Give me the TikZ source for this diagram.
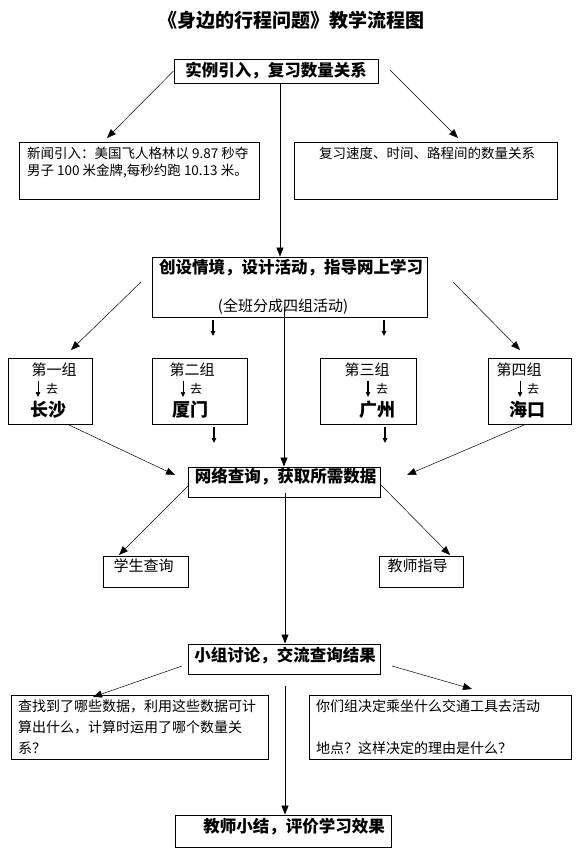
\documentclass[tikz,border=0pt]{standalone}
\usepackage{fontspec}
\setmainfont{Noto Sans CJK SC}
\usetikzlibrary{arrows.meta}
\begin{document}
\begin{tikzpicture}[x=1pt,y=-1pt,
 box/.style={draw,line width=0.9pt,inner sep=0pt,rectangle},
 hd/.style={font=\fontsize{16.5}{18}\selectfont\bfseries,inner sep=0pt},
 tx/.style={font=\fontsize{13.5}{16}\selectfont,inner sep=0pt},
 gx/.style={font=\fontsize{15}{17}\selectfont,inner sep=0pt},
 cityx/.style={font=\fontsize{18}{20}\selectfont\bfseries,inner sep=0pt},
 qux/.style={font=\fontsize{12}{14}\selectfont,inner sep=0pt},
 arr/.style={line width=0.8pt,-{Triangle[length=9pt,width=7pt]}},
 tarr/.style={line width=0.5pt,-{Triangle[length=9pt,width=7pt]}},
 tick/.style={line width=1.1pt,-{Triangle[length=5pt,width=4.5pt]}},
]
\useasboundingbox (0,0) rectangle (580,867);
% title
\node[font=\fontsize{19}{21}\selectfont\bfseries,inner sep=0pt] (title) at (291,20) {《身边的行程问题》教学流程图};
% box 1
\node[box,minimum width=204pt,minimum height=24pt] (b1) at (276,71) {};
\node[hd] (t1) at (276,71) {实例引入，复习数量关系};
% left news box
\node[box,minimum width=240pt,minimum height=57pt] (b2) at (139,170.5) {};
\node[tx,anchor=west] (t2a) at (27,153) {新闻引入：美国飞人格林以 9.87 秒夺};
\node[tx,anchor=west] (t2b) at (27,171) {男子 100 米金牌,每秒约跑 10.13 米。};
% right review box
\node[box,minimum width=263pt,minimum height=57pt] (b3) at (425.5,170.5) {};
\node[tx] (t3) at (427,153) {复习速度、时间、路程间的数量关系};
% arrows from box 1
\coordinate (c1) at (107,138);
\coordinate (c2s) at (390,70);
\coordinate (c2) at (458,138);
\coordinate (cx) at (280,0);
\draw[tarr] (b1.west) -- (c1);
\draw[tarr] (c2s) -- (c2);
% box 2
\node[box,minimum width=275pt,minimum height=60pt] (b4) at (289.5,287) {};
\node[hd] (t4) at (291,268) {创设情境，设计活动，指导网上学习};
\node[gx] (t4b) at (283,307) {(全班分成四组活动)};
\draw[arr] (b1.south -| cx) -- (b4.north -| cx);
% diagonals from box 2
\coordinate (d1s) at (141,282);
\coordinate (d1) at (71,350);
\coordinate (d2s) at (453,282);
\coordinate (d2) at (520,350);
\draw[tarr] (d1s) -- (d1);
\draw[tarr] (d2s) -- (d2);
% short arrows below box 2
\coordinate (s1a) at (213,320); \coordinate (s1b) at (213,336);
\coordinate (s2a) at (384,320); \coordinate (s2b) at (384,336);
\draw[tick] (s1a) -- (s1b);
\draw[tick] (s2a) -- (s2b);
% group boxes
\node[box,minimum width=84pt,minimum height=66pt] (gA) at (50,391) {};
\node[box,minimum width=95pt,minimum height=66pt] (gB) at (199.5,391) {};
\node[box,minimum width=96pt,minimum height=66pt] (gC) at (368,391) {};
\node[box,minimum width=83pt,minimum height=66pt] (gD) at (529.5,391) {};
\node[gx] (gAt) at (54,370) {第一组};
\node[gx] (gBt) at (192,370) {第二组};
\node[gx] (gCt) at (367,370) {第三组};
\node[gx] (gDt) at (519,370) {第四组};
\coordinate (aA1) at (38,381); \coordinate (aA2) at (38,397);
\coordinate (aB1) at (183,381); \coordinate (aB2) at (183,397);
\coordinate (aC1) at (368,381); \coordinate (aC2) at (368,397);
\coordinate (aD1) at (520,381); \coordinate (aD2) at (520,397);
\draw[tick,line width=0.7pt] (aA1) -- (aA2);
\draw[tick,line width=0.7pt] (aB1) -- (aB2);
\draw[tick,line width=1.3pt] (aC1) -- (aC2);
\draw[tick,line width=0.7pt] (aD1) -- (aD2);
\node[qux] (qA) at (52,389) {去};
\node[qux] (qB) at (196,389) {去};
\node[qux] (qC) at (382,389) {去};
\node[qux] (qD) at (533,389) {去};
\node[cityx] (cA) at (48,410) {长沙};
\node[cityx] (cB) at (190,410) {厦门};
\node[cityx] (cC) at (377,410) {广州};
\node[cityx] (cD) at (527,410) {海口};
% short arrows below B and C
\coordinate (s3a) at (214,427); \coordinate (s3b) at (214,443);
\coordinate (s4a) at (385,427); \coordinate (s4b) at (385,443);
\draw[tick] (s3a) -- (s3b);
\draw[tick] (s4a) -- (s4b);
% box 3
\node[box,minimum width=192pt,minimum height=30pt] (b7) at (284,482) {};
\node[hd] (t7) at (285.5,477) {网络查询，获取所需数据};
\coordinate (e1s) at (69,425); \coordinate (e1) at (175,475);
\coordinate (e2s) at (524,425); \coordinate (e2) at (407,475);
\draw[tarr] (e1s) -- (e1);
\draw[tarr] (e2s) -- (e2);
\coordinate (mx) at (284,0);
\draw[arr] (t4b.center -| mx) -- (b7.north -| mx);
% student / teacher boxes
\node[box,minimum width=85pt,minimum height=31pt] (b8) at (145.5,571.5) {};
\node[gx] (t8) at (143.5,566) {学生查询};
\node[box,minimum width=84pt,minimum height=31pt] (b9) at (421,571.5) {};
\node[gx] (t9) at (417.5,566) {教师指导};
\coordinate (f1s) at (189,485); \coordinate (f1) at (119,555);
\coordinate (f2s) at (381,485); \coordinate (f2) at (450,555);
\draw[tarr] (f1s) -- (f1);
\draw[tarr] (f2s) -- (f2);
% box 4
\node[box,minimum width=192pt,minimum height=30pt] (b10) at (284,659) {};
\node[hd] (t10) at (285,656) {小组讨论，交流查询结果};
\coordinate (nx) at (285,0);
\coordinate (g0) at (285,493);
\draw[arr] (g0) -- (b10.north -| nx);
% box 5 and 6
\node[box,minimum width=257pt,minimum height=64pt] (b11) at (139.5,727) {};
\draw[line width=1.8pt] (b11.north east) -- (b11.south east);
\node[gx,font=\fontsize{14}{16}\selectfont,anchor=west] (t11a) at (18,706) {查找到了哪些数据，利用这些数据可计};
\node[gx,font=\fontsize{14}{16}\selectfont,anchor=west] (t11b) at (18,727) {算出什么，计算时运用了哪个数量关};
\node[gx,font=\fontsize{14}{16}\selectfont,anchor=west] (t11c) at (18,748) {系？};
\node[box,minimum width=262pt,minimum height=64pt] (b12) at (440,727) {};
\node[gx,font=\fontsize{14}{16}\selectfont,anchor=west] (t12a) at (316,706) {你们组决定乘坐什么交通工具去活动};
\node[gx,font=\fontsize{14}{16}\selectfont,anchor=west] (t12b) at (316,748) {地点？这样决定的理由是什么？};
\coordinate (h1s) at (182,666); \coordinate (h1) at (93,697);
\coordinate (h2s) at (392,666); \coordinate (h2) at (472,689);
\draw[tarr] (h1s) -- (h1);
\draw[tarr] (h2s) -- (h2);
% final box
\node[box,minimum width=216pt,minimum height=32pt] (b13) at (283,831) {};
\node[hd] (t13) at (294,827) {教师小结，评价学习效果};
\coordinate (k0) at (285,686);
\draw[arr] (k0) -- (b13.north -| nx);
\end{tikzpicture}
\end{document}
